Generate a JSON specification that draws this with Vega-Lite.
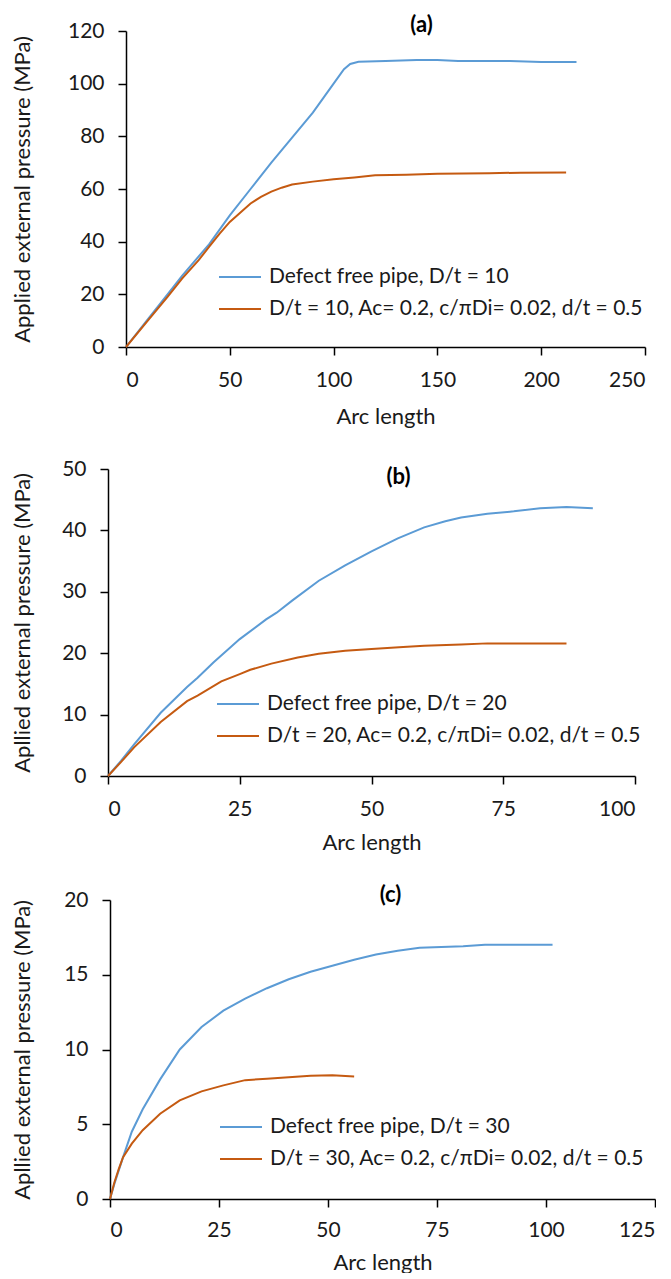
{
  "$schema": "https://vega.github.io/schema/vega-lite/v6.json",
  "background": "white",
  "padding": {"left": 10, "top": 14, "right": 0, "bottom": 0},
  "spacing": 31,
  "resolve": {"scale": {"color": "independent"}, "legend": {"color": "independent"}},
  "config": {
    "font": "Lato",
    "view": {"stroke": null},
    "axis": {
      "grid": false,
      "domainColor": "#000000",
      "domainWidth": 1.5,
      "tickColor": "#000000",
      "tickWidth": 1.5,
      "tickSize": 8,
      "labelFont": "Lato",
      "labelFontSize": 21,
      "labelColor": "#1a1a1a",
      "titleFont": "Lato",
      "titleFontSize": 22,
      "titleFontWeight": "normal",
      "titleColor": "#1a1a1a",
      "titleLimit": 600
    },
    "legend": {
      "orient": "none",
      "title": null,
      "symbolType": "stroke",
      "symbolSize": 1764,
      "symbolStrokeWidth": 2,
      "labelFont": "Lato",
      "labelFontSize": 21,
      "labelColor": "#1a1a1a",
      "labelOffset": 7,
      "labelLimit": 600,
      "padding": 0
    },
    "title": {"font": "Lato", "fontSize": 22, "fontWeight": "bold", "color": "#000000"}
  },
  "datasets": {
    "spacer": [],
    "a": [
      {"x": 0, "y": 0, "s": "Defect free pipe, D/t = 10"},
      {"x": 10, "y": 10, "s": "Defect free pipe, D/t = 10"},
      {"x": 20, "y": 20, "s": "Defect free pipe, D/t = 10"},
      {"x": 27, "y": 27, "s": "Defect free pipe, D/t = 10"},
      {"x": 40, "y": 39, "s": "Defect free pipe, D/t = 10"},
      {"x": 50, "y": 50, "s": "Defect free pipe, D/t = 10"},
      {"x": 60, "y": 60, "s": "Defect free pipe, D/t = 10"},
      {"x": 70, "y": 70, "s": "Defect free pipe, D/t = 10"},
      {"x": 80, "y": 79.5, "s": "Defect free pipe, D/t = 10"},
      {"x": 90, "y": 89, "s": "Defect free pipe, D/t = 10"},
      {"x": 95, "y": 94.5, "s": "Defect free pipe, D/t = 10"},
      {"x": 100, "y": 100, "s": "Defect free pipe, D/t = 10"},
      {"x": 105, "y": 105.5, "s": "Defect free pipe, D/t = 10"},
      {"x": 108, "y": 107.5, "s": "Defect free pipe, D/t = 10"},
      {"x": 112, "y": 108.3, "s": "Defect free pipe, D/t = 10"},
      {"x": 125, "y": 108.6, "s": "Defect free pipe, D/t = 10"},
      {"x": 140, "y": 109, "s": "Defect free pipe, D/t = 10"},
      {"x": 150, "y": 109, "s": "Defect free pipe, D/t = 10"},
      {"x": 160, "y": 108.6, "s": "Defect free pipe, D/t = 10"},
      {"x": 185, "y": 108.6, "s": "Defect free pipe, D/t = 10"},
      {"x": 200, "y": 108.2, "s": "Defect free pipe, D/t = 10"},
      {"x": 217, "y": 108.2, "s": "Defect free pipe, D/t = 10"},
      {"x": 0, "y": 0, "s": "D/t = 10, Ac= 0.2, c/πDi= 0.02, d/t = 0.5"},
      {"x": 10, "y": 9.5, "s": "D/t = 10, Ac= 0.2, c/πDi= 0.02, d/t = 0.5"},
      {"x": 20, "y": 19, "s": "D/t = 10, Ac= 0.2, c/πDi= 0.02, d/t = 0.5"},
      {"x": 27, "y": 26, "s": "D/t = 10, Ac= 0.2, c/πDi= 0.02, d/t = 0.5"},
      {"x": 35, "y": 33, "s": "D/t = 10, Ac= 0.2, c/πDi= 0.02, d/t = 0.5"},
      {"x": 40, "y": 38, "s": "D/t = 10, Ac= 0.2, c/πDi= 0.02, d/t = 0.5"},
      {"x": 45, "y": 43, "s": "D/t = 10, Ac= 0.2, c/πDi= 0.02, d/t = 0.5"},
      {"x": 50, "y": 47.5, "s": "D/t = 10, Ac= 0.2, c/πDi= 0.02, d/t = 0.5"},
      {"x": 55, "y": 51, "s": "D/t = 10, Ac= 0.2, c/πDi= 0.02, d/t = 0.5"},
      {"x": 60, "y": 54.5, "s": "D/t = 10, Ac= 0.2, c/πDi= 0.02, d/t = 0.5"},
      {"x": 65, "y": 57, "s": "D/t = 10, Ac= 0.2, c/πDi= 0.02, d/t = 0.5"},
      {"x": 70, "y": 59, "s": "D/t = 10, Ac= 0.2, c/πDi= 0.02, d/t = 0.5"},
      {"x": 75, "y": 60.5, "s": "D/t = 10, Ac= 0.2, c/πDi= 0.02, d/t = 0.5"},
      {"x": 80, "y": 61.7, "s": "D/t = 10, Ac= 0.2, c/πDi= 0.02, d/t = 0.5"},
      {"x": 90, "y": 62.8, "s": "D/t = 10, Ac= 0.2, c/πDi= 0.02, d/t = 0.5"},
      {"x": 100, "y": 63.7, "s": "D/t = 10, Ac= 0.2, c/πDi= 0.02, d/t = 0.5"},
      {"x": 110, "y": 64.4, "s": "D/t = 10, Ac= 0.2, c/πDi= 0.02, d/t = 0.5"},
      {"x": 120, "y": 65.2, "s": "D/t = 10, Ac= 0.2, c/πDi= 0.02, d/t = 0.5"},
      {"x": 135, "y": 65.4, "s": "D/t = 10, Ac= 0.2, c/πDi= 0.02, d/t = 0.5"},
      {"x": 150, "y": 65.8, "s": "D/t = 10, Ac= 0.2, c/πDi= 0.02, d/t = 0.5"},
      {"x": 175, "y": 66, "s": "D/t = 10, Ac= 0.2, c/πDi= 0.02, d/t = 0.5"},
      {"x": 190, "y": 66.2, "s": "D/t = 10, Ac= 0.2, c/πDi= 0.02, d/t = 0.5"},
      {"x": 212, "y": 66.3, "s": "D/t = 10, Ac= 0.2, c/πDi= 0.02, d/t = 0.5"}
    ],
    "b": [
      {"x": 0, "y": 0, "s": "Defect free pipe, D/t = 20"},
      {"x": 2.5, "y": 2.5, "s": "Defect free pipe, D/t = 20"},
      {"x": 5, "y": 5.2, "s": "Defect free pipe, D/t = 20"},
      {"x": 10, "y": 10.3, "s": "Defect free pipe, D/t = 20"},
      {"x": 15, "y": 14.5, "s": "Defect free pipe, D/t = 20"},
      {"x": 17, "y": 16, "s": "Defect free pipe, D/t = 20"},
      {"x": 20, "y": 18.5, "s": "Defect free pipe, D/t = 20"},
      {"x": 25, "y": 22.3, "s": "Defect free pipe, D/t = 20"},
      {"x": 30, "y": 25.5, "s": "Defect free pipe, D/t = 20"},
      {"x": 32, "y": 26.6, "s": "Defect free pipe, D/t = 20"},
      {"x": 35, "y": 28.6, "s": "Defect free pipe, D/t = 20"},
      {"x": 40, "y": 31.8, "s": "Defect free pipe, D/t = 20"},
      {"x": 45, "y": 34.3, "s": "Defect free pipe, D/t = 20"},
      {"x": 50, "y": 36.6, "s": "Defect free pipe, D/t = 20"},
      {"x": 55, "y": 38.7, "s": "Defect free pipe, D/t = 20"},
      {"x": 60, "y": 40.5, "s": "Defect free pipe, D/t = 20"},
      {"x": 64, "y": 41.5, "s": "Defect free pipe, D/t = 20"},
      {"x": 67, "y": 42.1, "s": "Defect free pipe, D/t = 20"},
      {"x": 72, "y": 42.7, "s": "Defect free pipe, D/t = 20"},
      {"x": 77, "y": 43.1, "s": "Defect free pipe, D/t = 20"},
      {"x": 82, "y": 43.6, "s": "Defect free pipe, D/t = 20"},
      {"x": 87, "y": 43.8, "s": "Defect free pipe, D/t = 20"},
      {"x": 92, "y": 43.6, "s": "Defect free pipe, D/t = 20"},
      {"x": 0, "y": 0, "s": "D/t = 20, Ac= 0.2, c/πDi= 0.02, d/t = 0.5"},
      {"x": 2.5, "y": 2.3, "s": "D/t = 20, Ac= 0.2, c/πDi= 0.02, d/t = 0.5"},
      {"x": 5, "y": 4.7, "s": "D/t = 20, Ac= 0.2, c/πDi= 0.02, d/t = 0.5"},
      {"x": 10, "y": 8.8, "s": "D/t = 20, Ac= 0.2, c/πDi= 0.02, d/t = 0.5"},
      {"x": 15, "y": 12.2, "s": "D/t = 20, Ac= 0.2, c/πDi= 0.02, d/t = 0.5"},
      {"x": 17, "y": 13.1, "s": "D/t = 20, Ac= 0.2, c/πDi= 0.02, d/t = 0.5"},
      {"x": 21.5, "y": 15.4, "s": "D/t = 20, Ac= 0.2, c/πDi= 0.02, d/t = 0.5"},
      {"x": 25, "y": 16.6, "s": "D/t = 20, Ac= 0.2, c/πDi= 0.02, d/t = 0.5"},
      {"x": 27, "y": 17.3, "s": "D/t = 20, Ac= 0.2, c/πDi= 0.02, d/t = 0.5"},
      {"x": 31, "y": 18.3, "s": "D/t = 20, Ac= 0.2, c/πDi= 0.02, d/t = 0.5"},
      {"x": 36, "y": 19.3, "s": "D/t = 20, Ac= 0.2, c/πDi= 0.02, d/t = 0.5"},
      {"x": 40, "y": 19.9, "s": "D/t = 20, Ac= 0.2, c/πDi= 0.02, d/t = 0.5"},
      {"x": 45, "y": 20.4, "s": "D/t = 20, Ac= 0.2, c/πDi= 0.02, d/t = 0.5"},
      {"x": 50, "y": 20.7, "s": "D/t = 20, Ac= 0.2, c/πDi= 0.02, d/t = 0.5"},
      {"x": 56, "y": 21.0, "s": "D/t = 20, Ac= 0.2, c/πDi= 0.02, d/t = 0.5"},
      {"x": 60, "y": 21.2, "s": "D/t = 20, Ac= 0.2, c/πDi= 0.02, d/t = 0.5"},
      {"x": 67, "y": 21.4, "s": "D/t = 20, Ac= 0.2, c/πDi= 0.02, d/t = 0.5"},
      {"x": 72, "y": 21.6, "s": "D/t = 20, Ac= 0.2, c/πDi= 0.02, d/t = 0.5"},
      {"x": 80, "y": 21.6, "s": "D/t = 20, Ac= 0.2, c/πDi= 0.02, d/t = 0.5"},
      {"x": 87, "y": 21.6, "s": "D/t = 20, Ac= 0.2, c/πDi= 0.02, d/t = 0.5"}
    ],
    "c": [
      {"x": 0, "y": 0, "s": "Defect free pipe, D/t = 30"},
      {"x": 1, "y": 1, "s": "Defect free pipe, D/t = 30"},
      {"x": 3, "y": 2.8, "s": "Defect free pipe, D/t = 30"},
      {"x": 5, "y": 4.5, "s": "Defect free pipe, D/t = 30"},
      {"x": 7.5, "y": 6, "s": "Defect free pipe, D/t = 30"},
      {"x": 11.5, "y": 8, "s": "Defect free pipe, D/t = 30"},
      {"x": 16, "y": 10, "s": "Defect free pipe, D/t = 30"},
      {"x": 21, "y": 11.5, "s": "Defect free pipe, D/t = 30"},
      {"x": 26, "y": 12.6, "s": "Defect free pipe, D/t = 30"},
      {"x": 31, "y": 13.4, "s": "Defect free pipe, D/t = 30"},
      {"x": 36, "y": 14.1, "s": "Defect free pipe, D/t = 30"},
      {"x": 41, "y": 14.7, "s": "Defect free pipe, D/t = 30"},
      {"x": 46, "y": 15.2, "s": "Defect free pipe, D/t = 30"},
      {"x": 51, "y": 15.6, "s": "Defect free pipe, D/t = 30"},
      {"x": 56, "y": 16, "s": "Defect free pipe, D/t = 30"},
      {"x": 61, "y": 16.35, "s": "Defect free pipe, D/t = 30"},
      {"x": 66, "y": 16.6, "s": "Defect free pipe, D/t = 30"},
      {"x": 71, "y": 16.8, "s": "Defect free pipe, D/t = 30"},
      {"x": 81, "y": 16.9, "s": "Defect free pipe, D/t = 30"},
      {"x": 86, "y": 17, "s": "Defect free pipe, D/t = 30"},
      {"x": 101.5, "y": 17, "s": "Defect free pipe, D/t = 30"},
      {"x": 0, "y": 0, "s": "D/t = 30, Ac= 0.2, c/πDi= 0.02, d/t = 0.5"},
      {"x": 1, "y": 1.1, "s": "D/t = 30, Ac= 0.2, c/πDi= 0.02, d/t = 0.5"},
      {"x": 2, "y": 2, "s": "D/t = 30, Ac= 0.2, c/πDi= 0.02, d/t = 0.5"},
      {"x": 3, "y": 2.8, "s": "D/t = 30, Ac= 0.2, c/πDi= 0.02, d/t = 0.5"},
      {"x": 5, "y": 3.7, "s": "D/t = 30, Ac= 0.2, c/πDi= 0.02, d/t = 0.5"},
      {"x": 7.5, "y": 4.6, "s": "D/t = 30, Ac= 0.2, c/πDi= 0.02, d/t = 0.5"},
      {"x": 11.5, "y": 5.7, "s": "D/t = 30, Ac= 0.2, c/πDi= 0.02, d/t = 0.5"},
      {"x": 16, "y": 6.6, "s": "D/t = 30, Ac= 0.2, c/πDi= 0.02, d/t = 0.5"},
      {"x": 21, "y": 7.2, "s": "D/t = 30, Ac= 0.2, c/πDi= 0.02, d/t = 0.5"},
      {"x": 26, "y": 7.6, "s": "D/t = 30, Ac= 0.2, c/πDi= 0.02, d/t = 0.5"},
      {"x": 31, "y": 7.95, "s": "D/t = 30, Ac= 0.2, c/πDi= 0.02, d/t = 0.5"},
      {"x": 36, "y": 8.05, "s": "D/t = 30, Ac= 0.2, c/πDi= 0.02, d/t = 0.5"},
      {"x": 41, "y": 8.15, "s": "D/t = 30, Ac= 0.2, c/πDi= 0.02, d/t = 0.5"},
      {"x": 46, "y": 8.25, "s": "D/t = 30, Ac= 0.2, c/πDi= 0.02, d/t = 0.5"},
      {"x": 51, "y": 8.27, "s": "D/t = 30, Ac= 0.2, c/πDi= 0.02, d/t = 0.5"},
      {"x": 56, "y": 8.2, "s": "D/t = 30, Ac= 0.2, c/πDi= 0.02, d/t = 0.5"}
    ]
  },
  "vconcat": [
    {
      "spacing": 0,
      "resolve": {"scale": {"color": "independent"}, "legend": {"color": "independent"}},
      "hconcat": [
        {"width": 1, "height": 10, "data": {"name": "spacer"}, "mark": {"type": "point", "opacity": 0}, "encoding": {}},
        {
          "width": 519, "height": 316,
          "title": {"text": "(a)", "anchor": "middle", "dx": 36, "offset": -17},
          "data": {"name": "a"},
          "mark": {"type": "line", "strokeWidth": 2},
          "encoding": {
            "x": {"field": "x", "type": "quantitative", "scale": {"domain": [0, 250], "nice": false}, "axis": {"values": [0, 50, 100, 150, 200, 250], "title": "Arc length", "labelPadding": 14, "titlePadding": 16}},
            "y": {"field": "y", "type": "quantitative", "scale": {"domain": [0, 120], "nice": false}, "axis": {"values": [0, 20, 40, 60, 80, 100, 120], "title": "Applied external pressure (MPa)", "labelPadding": 14, "titlePadding": 33}},
            "color": {"field": "s", "type": "nominal", "scale": {"domain": ["Defect free pipe, D/t = 10", "D/t = 10, Ac= 0.2, c/πDi= 0.02, d/t = 0.5"], "range": ["#5B9BD5", "#C55A11"]}, "sort": null, "legend": {"legendX": 92, "legendY": 224, "rowPadding": -9}}
          }
        }
      ]
    },
    {
      "spacing": 0,
      "resolve": {"scale": {"color": "independent"}, "legend": {"color": "independent"}},
      "hconcat": [
        {"width": 1, "height": 10, "data": {"name": "spacer"}, "mark": {"type": "point", "opacity": 0}, "encoding": {}},
        {
          "width": 527, "height": 307,
          "title": {"text": "(b)", "anchor": "middle", "dx": 27, "offset": -31},
          "data": {"name": "b"},
          "mark": {"type": "line", "strokeWidth": 2},
          "encoding": {
            "x": {"field": "x", "type": "quantitative", "scale": {"domain": [0, 100], "nice": false}, "axis": {"values": [0, 25, 50, 75, 100], "title": "Arc length", "labelPadding": 14, "titlePadding": 13}},
            "y": {"field": "y", "type": "quantitative", "scale": {"domain": [0, 50], "nice": false}, "axis": {"values": [0, 10, 20, 30, 40, 50], "title": "Apllied external pressure (MPa)", "labelPadding": 14, "titlePadding": 27}},
            "color": {"field": "s", "type": "nominal", "scale": {"domain": ["Defect free pipe, D/t = 20", "D/t = 20, Ac= 0.2, c/πDi= 0.02, d/t = 0.5"], "range": ["#5B9BD5", "#C55A11"]}, "sort": null, "legend": {"legendX": 108, "legendY": 213, "rowPadding": -11}}
          }
        }
      ]
    },
    {
      "spacing": 0,
      "resolve": {"scale": {"color": "independent"}, "legend": {"color": "independent"}},
      "hconcat": [
        {"width": 1, "height": 10, "data": {"name": "spacer"}, "mark": {"type": "point", "opacity": 0}, "encoding": {}},
        {
          "width": 545, "height": 299,
          "title": {"text": "(c)", "anchor": "middle", "dx": 8, "offset": -18},
          "data": {"name": "c"},
          "mark": {"type": "line", "strokeWidth": 2},
          "encoding": {
            "x": {"field": "x", "type": "quantitative", "scale": {"domain": [0, 125], "nice": false}, "axis": {"values": [0, 25, 50, 75, 100, 125], "title": "Arc length", "labelPadding": 12, "titlePadding": 12}},
            "y": {"field": "y", "type": "quantitative", "scale": {"domain": [0, 20], "nice": false}, "axis": {"values": [0, 5, 10, 15, 20], "title": "Apllied external pressure (MPa)", "labelPadding": 14, "titlePadding": 29}},
            "color": {"field": "s", "type": "nominal", "scale": {"domain": ["Defect free pipe, D/t = 30", "D/t = 30, Ac= 0.2, c/πDi= 0.02, d/t = 0.5"], "range": ["#5B9BD5", "#C55A11"]}, "sort": null, "legend": {"legendX": 109, "legendY": 205, "rowPadding": -12}}
          }
        }
      ]
    }
  ]
}
